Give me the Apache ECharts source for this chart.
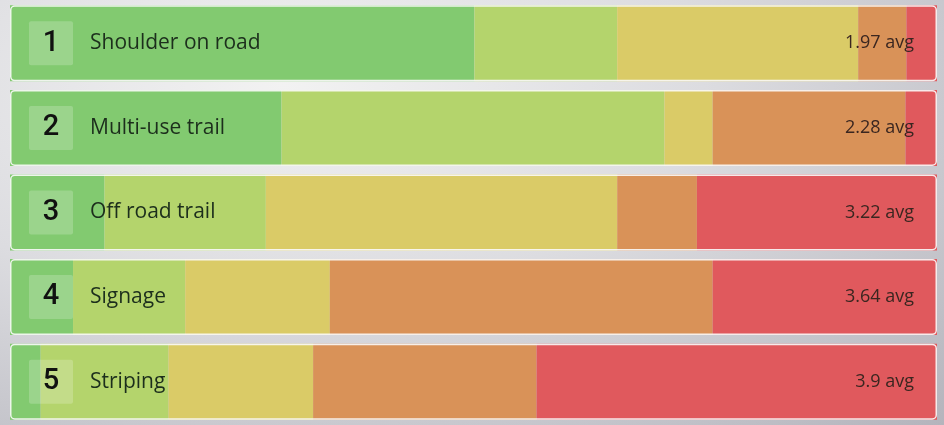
<!DOCTYPE html>
<html>
<head>
<meta charset="utf-8">
<script src="https://cdn.jsdelivr.net/npm/echarts@6/dist/echarts.min.js"></script>
<style>
  html, body { margin: 0; padding: 0; }
  body {
    width: 944px; height: 425px; overflow: hidden;
    background: radial-gradient(ellipse at 30% 20%, #f2f2f2 0%, #dcdce0 45%, #b4b4bc 100%);
  }
  #chart { width: 944px; height: 425px; }
</style>
</head>
<body>
<div id="chart"></div>
<script>
  // rows, top to bottom
  const categories = ["Shoulder on road", "Multi-use trail", "Off road trail", "Signage", "Striping"];
  const ranks = [1, 2, 3, 4, 5];
  const avgs = ["1.97", "2.28", "3.22", "3.64", "3.9"];

  // share of answers (%) per score, 1 = best (green) .. 5 = worst (red)
  const score1 = [50.1, 29.3, 10.2, 6.8, 3.3];
  const score2 = [15.4, 41.3, 17.4, 12.1, 13.8];
  const score3 = [26.0, 5.2, 37.9, 15.6, 15.6];
  const score4 = [5.2, 20.8, 8.6, 41.3, 24.1];
  const score5 = [3.3, 3.4, 25.9, 24.2, 43.2];

  const scoreColors = ["#82ca70", "#b4d46c", "#dacb67", "#d99258", "#e0595d"];

  const totals = categories.map((_, i) =>
    score1[i] + score2[i] + score3[i] + score4[i] + score5[i]);

  const chart = echarts.init(document.getElementById("chart"));

  const scoreSeries = [score1, score2, score3, score4, score5].map((d, k) => ({
    type: "bar",
    stack: "scores",
    data: d,
    barWidth: 76,
    itemStyle: { color: scoreColors[k] },
    silent: true,
  }));

  chart.setOption({
    animation: false,
    grid: { left: 10, right: 7, top: 1, bottom: 1 },
    xAxis: { type: "value", min: 0, max: 100, show: false },
    yAxis: { type: "category", data: categories, inverse: true, show: false },
    series: [
      ...scoreSeries,
      {
        // frame + rank and name
        type: "bar",
        data: totals,
        barWidth: 76,
        barGap: "-100%",
        z: 5,
        itemStyle: {
          color: "rgba(0,0,0,0)",
          borderColor: "rgba(250,250,250,0.9)",
          borderWidth: 1.5,
          borderRadius: 4,
        },
        label: {
          show: true,
          position: "insideLeft",
          distance: 19,
          formatter: (p) => "{rank|" + ranks[p.dataIndex] + "}{name|" + categories[p.dataIndex] + "}",
          rich: {
            rank: {
              fontFamily: "Roboto",
              fontSize: 29,
              fontWeight: 500,
              color: "#111",
              backgroundColor: "rgba(255,255,255,0.2)",
              borderRadius: 2,
              width: 44,
              height: 44,
              lineHeight: 44,
              align: "center",
            },
            name: {
              fontFamily: "Open Sans",
              fontSize: 21,
              color: "#1c2e1c",
              padding: [0, 0, 0, 17],
            },
          },
        },
      },
      {
        // average label on the right
        type: "bar",
        data: totals,
        barWidth: 76,
        barGap: "-100%",
        z: 6,
        itemStyle: { color: "rgba(0,0,0,0)" },
        label: {
          show: true,
          position: "insideRight",
          distance: 23,
          formatter: (p) => avgs[p.dataIndex] + " avg",
          fontFamily: "Open Sans",
          fontSize: 18,
          color: "#3a2620",
        },
      },
    ],
  });
</script>
</body>
</html>
